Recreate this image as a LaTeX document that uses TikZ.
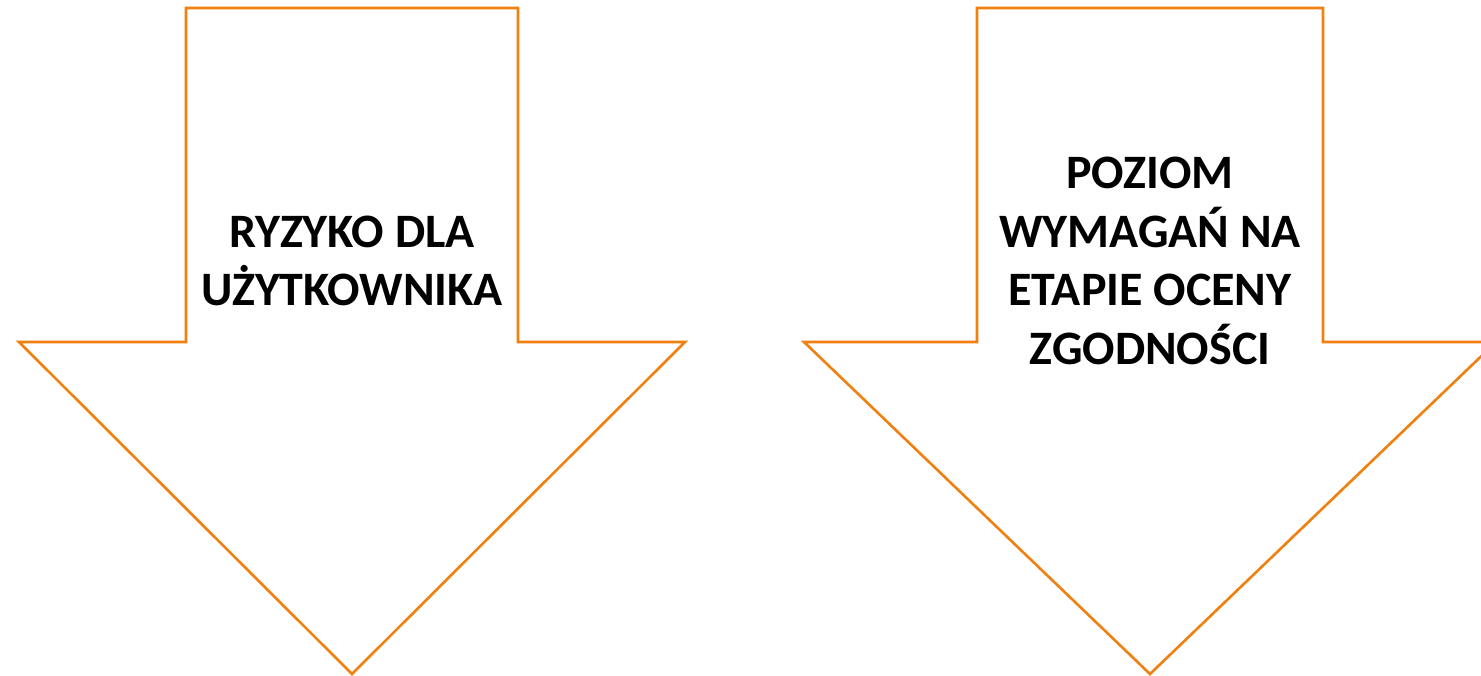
\documentclass[tikz,border=0pt]{standalone}
\usepackage{fontspec}
\setmainfont{Carlito}
\definecolor{arrorange}{RGB}{240,128,16}
\begin{document}
\begin{tikzpicture}[x=1pt,y=-1pt,
  bigarrow/.style={draw=arrorange,line width=2.6pt,fill=white,line join=miter},
  arrtext/.style={align=center,font=\fontsize{48}{58.5}\selectfont\bfseries,text=black,inner sep=0pt}]
\useasboundingbox (0,0) rectangle (1481,676);
\clip (0,0) rectangle (1481,676);
\fill[white] (0,0) rectangle (1481,676);
\draw[bigarrow] (186,8) -- (518,8) -- (518,342) -- (685,342) -- (352,674) -- (19,342) -- (186,342) -- cycle;
\draw[bigarrow] (977,8) -- (1323,8) -- (1323,342) -- (1496,342) -- (1150,674) -- (804,342) -- (977,342) -- cycle;
\node[arrtext] (t1) at (352,261) {RYZYKO DLA\\UŻYTKOWNIKA};
\node[arrtext] (t2) at (1150,261) {POZIOM\\WYMAGAŃ NA\\ETAPIE OCENY\\ZGODNOŚCI};
\end{tikzpicture}
\end{document}
